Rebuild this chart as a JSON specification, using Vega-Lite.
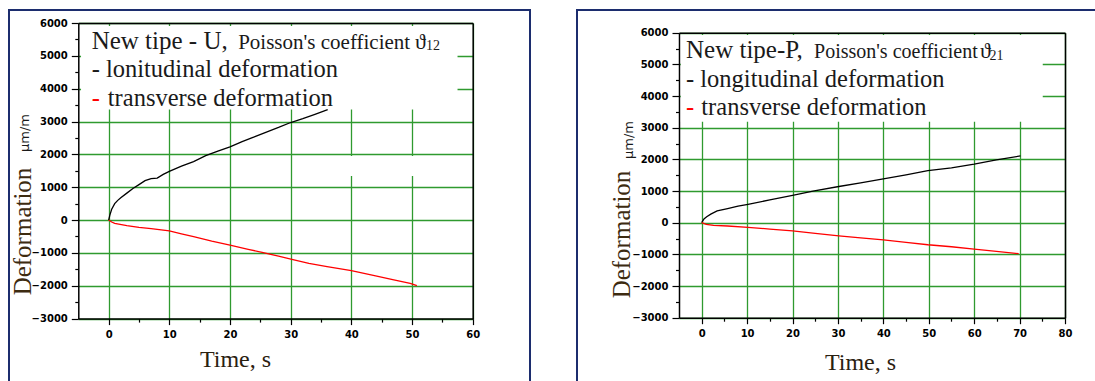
{
  "$schema": "https://vega.github.io/schema/vega-lite/v6.json",
  "padding": {"left": 8, "top": 9, "right": 0, "bottom": 0},
  "background": "white",
  "spacing": 45,
  "datasets": {
    "U": [
      {"t": 0, "v": 0, "s": "longitudinal"}, {"t": 0.2, "v": 150, "s": "longitudinal"}, {"t": 0.5, "v": 330, "s": "longitudinal"}, {"t": 1, "v": 500, "s": "longitudinal"}, {"t": 1.5, "v": 600, "s": "longitudinal"}, {"t": 2, "v": 680, "s": "longitudinal"}, {"t": 3, "v": 820, "s": "longitudinal"}, {"t": 4, "v": 960, "s": "longitudinal"}, {"t": 5, "v": 1080, "s": "longitudinal"}, {"t": 6, "v": 1200, "s": "longitudinal"}, {"t": 7, "v": 1260, "s": "longitudinal"}, {"t": 8, "v": 1280, "s": "longitudinal"}, {"t": 9, "v": 1390, "s": "longitudinal"}, {"t": 10, "v": 1480, "s": "longitudinal"}, {"t": 12, "v": 1640, "s": "longitudinal"}, {"t": 14, "v": 1780, "s": "longitudinal"}, {"t": 16, "v": 1960, "s": "longitudinal"}, {"t": 18, "v": 2100, "s": "longitudinal"}, {"t": 20, "v": 2230, "s": "longitudinal"}, {"t": 22, "v": 2390, "s": "longitudinal"}, {"t": 24, "v": 2530, "s": "longitudinal"}, {"t": 26, "v": 2680, "s": "longitudinal"}, {"t": 28, "v": 2820, "s": "longitudinal"}, {"t": 30, "v": 2970, "s": "longitudinal"}, {"t": 32, "v": 3090, "s": "longitudinal"}, {"t": 34, "v": 3220, "s": "longitudinal"}, {"t": 36.1, "v": 3360, "s": "longitudinal"},
      {"t": 0, "v": 0, "s": "transverse"}, {"t": 0.5, "v": -60, "s": "transverse"}, {"t": 1, "v": -100, "s": "transverse"}, {"t": 3, "v": -170, "s": "transverse"}, {"t": 5, "v": -225, "s": "transverse"}, {"t": 7, "v": -260, "s": "transverse"}, {"t": 10, "v": -330, "s": "transverse"}, {"t": 12, "v": -420, "s": "transverse"}, {"t": 14, "v": -507, "s": "transverse"}, {"t": 17, "v": -640, "s": "transverse"}, {"t": 20, "v": -760, "s": "transverse"}, {"t": 23, "v": -890, "s": "transverse"}, {"t": 25.3, "v": -984, "s": "transverse"}, {"t": 28, "v": -1100, "s": "transverse"}, {"t": 30.2, "v": -1197, "s": "transverse"}, {"t": 33, "v": -1320, "s": "transverse"}, {"t": 36, "v": -1420, "s": "transverse"}, {"t": 40, "v": -1542, "s": "transverse"}, {"t": 44, "v": -1700, "s": "transverse"}, {"t": 47, "v": -1820, "s": "transverse"}, {"t": 49.7, "v": -1927, "s": "transverse"}, {"t": 50.8, "v": -1998, "s": "transverse"}
    ],
    "P": [
      {"t": 0, "v": 0, "s": "longitudinal"}, {"t": 0.5, "v": 120, "s": "longitudinal"}, {"t": 1.1, "v": 187, "s": "longitudinal"}, {"t": 2, "v": 270, "s": "longitudinal"}, {"t": 3.4, "v": 374, "s": "longitudinal"}, {"t": 5.7, "v": 447, "s": "longitudinal"}, {"t": 8, "v": 520, "s": "longitudinal"}, {"t": 10.2, "v": 582, "s": "longitudinal"}, {"t": 15, "v": 720, "s": "longitudinal"}, {"t": 20, "v": 863, "s": "longitudinal"}, {"t": 24.5, "v": 998, "s": "longitudinal"}, {"t": 30.2, "v": 1143, "s": "longitudinal"}, {"t": 35, "v": 1260, "s": "longitudinal"}, {"t": 40, "v": 1383, "s": "longitudinal"}, {"t": 45, "v": 1510, "s": "longitudinal"}, {"t": 49.8, "v": 1642, "s": "longitudinal"}, {"t": 55, "v": 1730, "s": "longitudinal"}, {"t": 60, "v": 1850, "s": "longitudinal"}, {"t": 64.9, "v": 1985, "s": "longitudinal"}, {"t": 70.2, "v": 2110, "s": "longitudinal"},
      {"t": 0, "v": 0, "s": "transverse"}, {"t": 1, "v": -50, "s": "transverse"}, {"t": 2.6, "v": -83, "s": "transverse"}, {"t": 5.7, "v": -104, "s": "transverse"}, {"t": 10.2, "v": -146, "s": "transverse"}, {"t": 15, "v": -200, "s": "transverse"}, {"t": 20, "v": -260, "s": "transverse"}, {"t": 25, "v": -340, "s": "transverse"}, {"t": 30.2, "v": -416, "s": "transverse"}, {"t": 35, "v": -480, "s": "transverse"}, {"t": 40, "v": -541, "s": "transverse"}, {"t": 45, "v": -620, "s": "transverse"}, {"t": 49.8, "v": -696, "s": "transverse"}, {"t": 55, "v": -760, "s": "transverse"}, {"t": 60, "v": -832, "s": "transverse"}, {"t": 64.9, "v": -904, "s": "transverse"}, {"t": 69.8, "v": -977, "s": "transverse"}
    ]
  },
  "config": {
    "view": {"stroke": "#1c2d6e", "strokeWidth": 2, "fill": "white"},
    "axis": {"labelFont": "DejaVu Sans", "labelFontWeight": "bold", "labelFontSize": 10, "labelColor": "#000000", "domainColor": "#000000", "domainWidth": 1.5, "tickColor": "#000000", "tickWidth": 1.2, "gridColor": "#2f9a2f", "gridWidth": 1.3, "gridOpacity": 1, "titleFont": "Liberation Serif", "titleFontWeight": "normal", "labelFlush": false, "labelOverlap": false}
  },
  "hconcat": [
    {
      "width": 521,
      "height": 380,
      "resolve": {"axis": {"x": "independent", "y": "independent"}},
      "layer": [
        {
          "data": {"values": [{}]},
          "mark": {"type": "rect", "fill": "white"},
          "encoding": {
            "x": {"datum": -4.55, "type": "quantitative", "scale": {"domain": [-5, 60], "range": [69.3, 463.7], "nice": false, "zero": false}, "axis": null},
            "x2": {"datum": 57.5},
            "y": {"datum": 3369, "type": "quantitative", "scale": {"domain": [-3000, 6000], "range": [308.6, 13], "nice": false, "zero": false}, "axis": null},
            "y2": {"datum": 5905}
          }
        },
        {
          "data": {"values": [{}]},
          "mark": {"type": "rect", "fill": "white"},
          "encoding": {
            "x": {"datum": 36, "type": "quantitative", "scale": {"domain": [-5, 60], "range": [69.3, 463.7], "nice": false, "zero": false}, "axis": null},
            "x2": {"datum": 56},
            "y": {"datum": 1345, "type": "quantitative", "scale": {"domain": [-3000, 6000], "range": [308.6, 13], "nice": false, "zero": false}, "axis": null},
            "y2": {"datum": 1950}
          }
        },
        {
          "data": {"name": "U"},
          "mark": {"type": "line", "strokeWidth": 1.3},
          "encoding": {
            "x": {"field": "t", "type": "quantitative", "scale": {"domain": [-5, 60], "range": [69.3, 463.7], "nice": false, "zero": false},
              "axis": {"orient": "bottom", "offset": -71.4, "values": [0, 10, 20, 30, 40, 50, 60], "format": "d", "grid": false, "tickSize": 6, "labelPadding": 5, "title": "Time, s", "titleFontSize": 24, "titleColor": "#2a2010", "titleX": 226, "titleY": 47.4, "titleAlign": "center", "titleBaseline": "alphabetic", "titleAngle": 0}},
            "y": {"field": "v", "type": "quantitative", "scale": {"domain": [-3000, 6000], "range": [308.6, 13], "nice": false, "zero": false},
              "axis": {"orient": "left", "offset": -69.3, "values": [-3000, -2000, -1000, 0, 1000, 2000, 3000, 4000, 5000, 6000], "format": "d", "grid": true, "tickSize": 7, "labelPadding": 4, "title": "Deformation", "titleFontSize": 25, "titleColor": "#3d2b10", "titleX": -55.8, "titleY": 221, "titleAngle": 270, "titleAlign": "center", "titleBaseline": "middle"}},
            "color": {"field": "s", "type": "nominal", "scale": {"domain": ["longitudinal", "transverse"], "range": ["#000000", "#ff0000"]}, "legend": null}
          }
        },
        {
          "data": {"values": [{}]},
          "mark": {"type": "point", "opacity": 0},
          "encoding": {
            "x": {"datum": 0, "type": "quantitative", "scale": {"domain": [-5, 60], "range": [69.3, 463.7], "nice": false, "zero": false},
              "axis": {"orient": "bottom", "offset": -71.4, "values": [5, 15, 25, 35, 45, 55], "tickSize": 3.5, "labels": false, "domain": false, "grid": false, "title": null}},
            "y": {"datum": 0, "type": "quantitative", "scale": {"domain": [-3000, 6000], "range": [308.6, 13], "nice": false, "zero": false},
              "axis": {"orient": "left", "offset": -69.3, "values": [-2500, -1500, -500, 500, 1500, 2500, 3500, 4500, 5500], "tickSize": 3.5, "labels": false, "domain": false, "grid": false, "title": null}}
          }
        },
        {
          "data": {"values": [{}]},
          "mark": {"type": "point", "opacity": 0},
          "encoding": {
            "x": {"datum": 0, "type": "quantitative", "scale": {"domain": [-5, 60], "range": [69.3, 463.7], "nice": false, "zero": false},
              "axis": {"orient": "top", "offset": -13, "values": [0, 10, 20, 30, 40, 50, 60], "ticks": false, "labels": false, "domain": false, "grid": true, "title": null}},
            "y": {"datum": 0, "type": "quantitative", "scale": {"domain": [-3000, 6000], "range": [308.6, 13], "nice": false, "zero": false}, "axis": null}
          }
        },
        {
          "data": {"values": [{}]},
          "mark": {"type": "point", "opacity": 0},
          "encoding": {
            "x": {"datum": 0, "type": "quantitative", "scale": {"domain": [-5, 60], "range": [69.3, 463.7], "nice": false, "zero": false},
              "axis": {"orient": "top", "offset": -13, "ticks": false, "labels": false, "grid": false, "domain": true, "title": null, "zindex": 1}},
            "y": {"datum": 0, "type": "quantitative", "scale": {"domain": [-3000, 6000], "range": [308.6, 13], "nice": false, "zero": false},
              "axis": {"orient": "right", "offset": -57.3, "ticks": false, "labels": false, "grid": false, "domain": true, "zindex": 1, "title": null}}
          }
        },
        {
          "data": {"values": [{}]},
          "mark": {"type": "text", "text": "μm/m", "font": "DejaVu Sans", "fontSize": 13, "angle": 270, "align": "center", "baseline": "middle", "color": "#1a1a1a"},
          "encoding": {
            "x": {"datum": -13.78, "type": "quantitative", "scale": {"domain": [-5, 60], "range": [69.3, 463.7], "nice": false, "zero": false}, "axis": null},
            "y": {"datum": 2650, "type": "quantitative", "scale": {"domain": [-3000, 6000], "range": [308.6, 13], "nice": false, "zero": false}, "axis": null}
          }
        },
        {
          "data": {"values": [{}]},
          "mark": {"type": "text", "text": "New tipe - U,", "font": "Liberation Serif", "fontSize": 25, "align": "left", "baseline": "alphabetic", "color": "#1a1a1a"},
          "encoding": {
            "x": {"datum": -2.8, "type": "quantitative", "scale": {"domain": [-5, 60], "range": [69.3, 463.7], "nice": false, "zero": false}, "axis": null},
            "y": {"datum": 5210, "type": "quantitative", "scale": {"domain": [-3000, 6000], "range": [308.6, 13], "nice": false, "zero": false}, "axis": null}
          }
        },
        {
          "data": {"values": [{}]},
          "mark": {"type": "text", "text": "Poisson's coefficient", "font": "Liberation Serif", "fontSize": 21, "align": "left", "baseline": "alphabetic", "color": "#1a1a1a"},
          "encoding": {
            "x": {"datum": 21.35, "type": "quantitative", "scale": {"domain": [-5, 60], "range": [69.3, 463.7], "nice": false, "zero": false}, "axis": null},
            "y": {"datum": 5210, "type": "quantitative", "scale": {"domain": [-3000, 6000], "range": [308.6, 13], "nice": false, "zero": false}, "axis": null}
          }
        },
        {
          "data": {"values": [{}]},
          "mark": {"type": "text", "text": "ϑ", "font": "Liberation Serif", "fontSize": 22, "align": "left", "baseline": "alphabetic", "color": "#1a1a1a"},
          "encoding": {
            "x": {"datum": 50.49, "type": "quantitative", "scale": {"domain": [-5, 60], "range": [69.3, 463.7], "nice": false, "zero": false}, "axis": null},
            "y": {"datum": 5210, "type": "quantitative", "scale": {"domain": [-3000, 6000], "range": [308.6, 13], "nice": false, "zero": false}, "axis": null}
          }
        },
        {
          "data": {"values": [{}]},
          "mark": {"type": "text", "text": "12", "font": "Liberation Serif", "fontSize": 14, "align": "left", "baseline": "alphabetic", "color": "#1a1a1a"},
          "encoding": {
            "x": {"datum": 52.3, "type": "quantitative", "scale": {"domain": [-5, 60], "range": [69.3, 463.7], "nice": false, "zero": false}, "axis": null},
            "y": {"datum": 5170, "type": "quantitative", "scale": {"domain": [-3000, 6000], "range": [308.6, 13], "nice": false, "zero": false}, "axis": null}
          }
        },
        {
          "data": {"values": [{}]},
          "mark": {"type": "text", "text": "- lonitudinal deformation", "font": "Liberation Serif", "fontSize": 24.5, "align": "left", "baseline": "alphabetic", "color": "#1a1a1a"},
          "encoding": {
            "x": {"datum": -2.8, "type": "quantitative", "scale": {"domain": [-5, 60], "range": [69.3, 463.7], "nice": false, "zero": false}, "axis": null},
            "y": {"datum": 4347, "type": "quantitative", "scale": {"domain": [-3000, 6000], "range": [308.6, 13], "nice": false, "zero": false}, "axis": null}
          }
        },
        {
          "data": {"values": [{}]},
          "mark": {"type": "text", "text": "-", "font": "Liberation Serif", "fontSize": 24.5, "align": "left", "baseline": "alphabetic", "color": "#ff0000"},
          "encoding": {
            "x": {"datum": -2.8, "type": "quantitative", "scale": {"domain": [-5, 60], "range": [69.3, 463.7], "nice": false, "zero": false}, "axis": null},
            "y": {"datum": 3473, "type": "quantitative", "scale": {"domain": [-3000, 6000], "range": [308.6, 13], "nice": false, "zero": false}, "axis": null}
          }
        },
        {
          "data": {"values": [{}]},
          "mark": {"type": "text", "text": "transverse deformation", "font": "Liberation Serif", "fontSize": 24.5, "align": "left", "baseline": "alphabetic", "color": "#1a1a1a"},
          "encoding": {
            "x": {"datum": -0.14, "type": "quantitative", "scale": {"domain": [-5, 60], "range": [69.3, 463.7], "nice": false, "zero": false}, "axis": null},
            "y": {"datum": 3473, "type": "quantitative", "scale": {"domain": [-3000, 6000], "range": [308.6, 13], "nice": false, "zero": false}, "axis": null}
          }
        }
      ]
    },
    {
      "width": 530,
      "height": 380,
      "resolve": {"axis": {"x": "independent", "y": "independent"}},
      "layer": [
        {
          "data": {"values": [{}]},
          "mark": {"type": "rect", "fill": "white"},
          "encoding": {
            "x": {"datum": -4.6, "type": "quantitative", "scale": {"domain": [-5, 80], "range": [102, 488], "nice": false, "zero": false}, "axis": null},
            "x2": {"datum": 75.1},
            "y": {"datum": 3190, "type": "quantitative", "scale": {"domain": [-3000, 6000], "range": [307.7, 22.7], "nice": false, "zero": false}, "axis": null},
            "y2": {"datum": 5927}
          }
        },
        {
          "data": {"name": "P"},
          "mark": {"type": "line", "strokeWidth": 1.3},
          "encoding": {
            "x": {"field": "t", "type": "quantitative", "scale": {"domain": [-5, 80], "range": [102, 488], "nice": false, "zero": false},
              "axis": {"orient": "bottom", "offset": -72.3, "values": [0, 10, 20, 30, 40, 50, 60, 70, 80], "format": "d", "grid": false, "tickSize": 6, "labelPadding": 5, "title": "Time, s", "titleFontSize": 24, "titleColor": "#2a2010", "titleX": 283, "titleY": 51.3, "titleAlign": "center", "titleBaseline": "alphabetic", "titleAngle": 0}},
            "y": {"field": "v", "type": "quantitative", "scale": {"domain": [-3000, 6000], "range": [307.7, 22.7], "nice": false, "zero": false},
              "axis": {"orient": "left", "offset": -102, "values": [-3000, -2000, -1000, 0, 1000, 2000, 3000, 4000, 5000, 6000], "format": "d", "grid": true, "tickSize": 7, "labelPadding": 4, "title": "Deformation", "titleFontSize": 25, "titleColor": "#3d2b10", "titleX": -58, "titleY": 224, "titleAngle": 270, "titleAlign": "center", "titleBaseline": "middle"}},
            "color": {"field": "s", "type": "nominal", "scale": {"domain": ["longitudinal", "transverse"], "range": ["#000000", "#ff0000"]}, "legend": null}
          }
        },
        {
          "data": {"values": [{}]},
          "mark": {"type": "point", "opacity": 0},
          "encoding": {
            "x": {"datum": 0, "type": "quantitative", "scale": {"domain": [-5, 80], "range": [102, 488], "nice": false, "zero": false},
              "axis": {"orient": "bottom", "offset": -72.3, "values": [5, 15, 25, 35, 45, 55, 65, 75], "tickSize": 3.5, "labels": false, "domain": false, "grid": false, "title": null}},
            "y": {"datum": 0, "type": "quantitative", "scale": {"domain": [-3000, 6000], "range": [307.7, 22.7], "nice": false, "zero": false},
              "axis": {"orient": "left", "offset": -102, "values": [-2500, -1500, -500, 500, 1500, 2500, 3500, 4500, 5500], "tickSize": 3.5, "labels": false, "domain": false, "grid": false, "title": null}}
          }
        },
        {
          "data": {"values": [{}]},
          "mark": {"type": "point", "opacity": 0},
          "encoding": {
            "x": {"datum": 0, "type": "quantitative", "scale": {"domain": [-5, 80], "range": [102, 488], "nice": false, "zero": false},
              "axis": {"orient": "top", "offset": -22.7, "values": [0, 10, 20, 30, 40, 50, 60, 70, 80], "ticks": false, "labels": false, "domain": false, "grid": true, "title": null}},
            "y": {"datum": 0, "type": "quantitative", "scale": {"domain": [-3000, 6000], "range": [307.7, 22.7], "nice": false, "zero": false}, "axis": null}
          }
        },
        {
          "data": {"values": [{}]},
          "mark": {"type": "point", "opacity": 0},
          "encoding": {
            "x": {"datum": 0, "type": "quantitative", "scale": {"domain": [-5, 80], "range": [102, 488], "nice": false, "zero": false},
              "axis": {"orient": "top", "offset": -22.7, "ticks": false, "labels": false, "grid": false, "domain": true, "title": null, "zindex": 1}},
            "y": {"datum": 0, "type": "quantitative", "scale": {"domain": [-3000, 6000], "range": [307.7, 22.7], "nice": false, "zero": false},
              "axis": {"orient": "right", "offset": -42, "ticks": false, "labels": false, "grid": false, "domain": true, "zindex": 1, "title": null}}
          }
        },
        {
          "data": {"values": [{}]},
          "mark": {"type": "text", "text": "μm/m", "font": "DejaVu Sans", "fontSize": 13, "angle": 270, "align": "center", "baseline": "middle", "color": "#1a1a1a"},
          "encoding": {
            "x": {"datum": -16.0, "type": "quantitative", "scale": {"domain": [-5, 80], "range": [102, 488], "nice": false, "zero": false}, "axis": null},
            "y": {"datum": 2612, "type": "quantitative", "scale": {"domain": [-3000, 6000], "range": [307.7, 22.7], "nice": false, "zero": false}, "axis": null}
          }
        },
        {
          "data": {"values": [{}]},
          "mark": {"type": "text", "text": "New tipe-P,", "font": "Liberation Serif", "fontSize": 25, "align": "left", "baseline": "alphabetic", "color": "#1a1a1a"},
          "encoding": {
            "x": {"datum": -3.46, "type": "quantitative", "scale": {"domain": [-5, 80], "range": [102, 488], "nice": false, "zero": false}, "axis": null},
            "y": {"datum": 5186, "type": "quantitative", "scale": {"domain": [-3000, 6000], "range": [307.7, 22.7], "nice": false, "zero": false}, "axis": null}
          }
        },
        {
          "data": {"values": [{}]},
          "mark": {"type": "text", "text": "Poisson's coefficient", "font": "Liberation Serif", "fontSize": 20, "align": "left", "baseline": "alphabetic", "color": "#1a1a1a"},
          "encoding": {
            "x": {"datum": 24.73, "type": "quantitative", "scale": {"domain": [-5, 80], "range": [102, 488], "nice": false, "zero": false}, "axis": null},
            "y": {"datum": 5186, "type": "quantitative", "scale": {"domain": [-3000, 6000], "range": [307.7, 22.7], "nice": false, "zero": false}, "axis": null}
          }
        },
        {
          "data": {"values": [{}]},
          "mark": {"type": "text", "text": "ϑ", "font": "Liberation Serif", "fontSize": 22, "align": "left", "baseline": "alphabetic", "color": "#1a1a1a"},
          "encoding": {
            "x": {"datum": 61.3, "type": "quantitative", "scale": {"domain": [-5, 80], "range": [102, 488], "nice": false, "zero": false}, "axis": null},
            "y": {"datum": 5186, "type": "quantitative", "scale": {"domain": [-3000, 6000], "range": [307.7, 22.7], "nice": false, "zero": false}, "axis": null}
          }
        },
        {
          "data": {"values": [{}]},
          "mark": {"type": "text", "text": "21", "font": "Liberation Serif", "fontSize": 14, "align": "left", "baseline": "alphabetic", "color": "#1a1a1a"},
          "encoding": {
            "x": {"datum": 63.4, "type": "quantitative", "scale": {"domain": [-5, 80], "range": [102, 488], "nice": false, "zero": false}, "axis": null},
            "y": {"datum": 5138, "type": "quantitative", "scale": {"domain": [-3000, 6000], "range": [307.7, 22.7], "nice": false, "zero": false}, "axis": null}
          }
        },
        {
          "data": {"values": [{}]},
          "mark": {"type": "text", "text": "- longitudinal deformation", "font": "Liberation Serif", "fontSize": 24.5, "align": "left", "baseline": "alphabetic", "color": "#1a1a1a"},
          "encoding": {
            "x": {"datum": -3.46, "type": "quantitative", "scale": {"domain": [-5, 80], "range": [102, 488], "nice": false, "zero": false}, "axis": null},
            "y": {"datum": 4276, "type": "quantitative", "scale": {"domain": [-3000, 6000], "range": [307.7, 22.7], "nice": false, "zero": false}, "axis": null}
          }
        },
        {
          "data": {"values": [{}]},
          "mark": {"type": "text", "text": "-", "font": "Liberation Serif", "fontSize": 24.5, "align": "left", "baseline": "alphabetic", "color": "#ff0000"},
          "encoding": {
            "x": {"datum": -3.46, "type": "quantitative", "scale": {"domain": [-5, 80], "range": [102, 488], "nice": false, "zero": false}, "axis": null},
            "y": {"datum": 3401, "type": "quantitative", "scale": {"domain": [-3000, 6000], "range": [307.7, 22.7], "nice": false, "zero": false}, "axis": null}
          }
        },
        {
          "data": {"values": [{}]},
          "mark": {"type": "text", "text": "transverse deformation", "font": "Liberation Serif", "fontSize": 24.5, "align": "left", "baseline": "alphabetic", "color": "#1a1a1a"},
          "encoding": {
            "x": {"datum": -0.09, "type": "quantitative", "scale": {"domain": [-5, 80], "range": [102, 488], "nice": false, "zero": false}, "axis": null},
            "y": {"datum": 3401, "type": "quantitative", "scale": {"domain": [-3000, 6000], "range": [307.7, 22.7], "nice": false, "zero": false}, "axis": null}
          }
        }
      ]
    }
  ]
}
